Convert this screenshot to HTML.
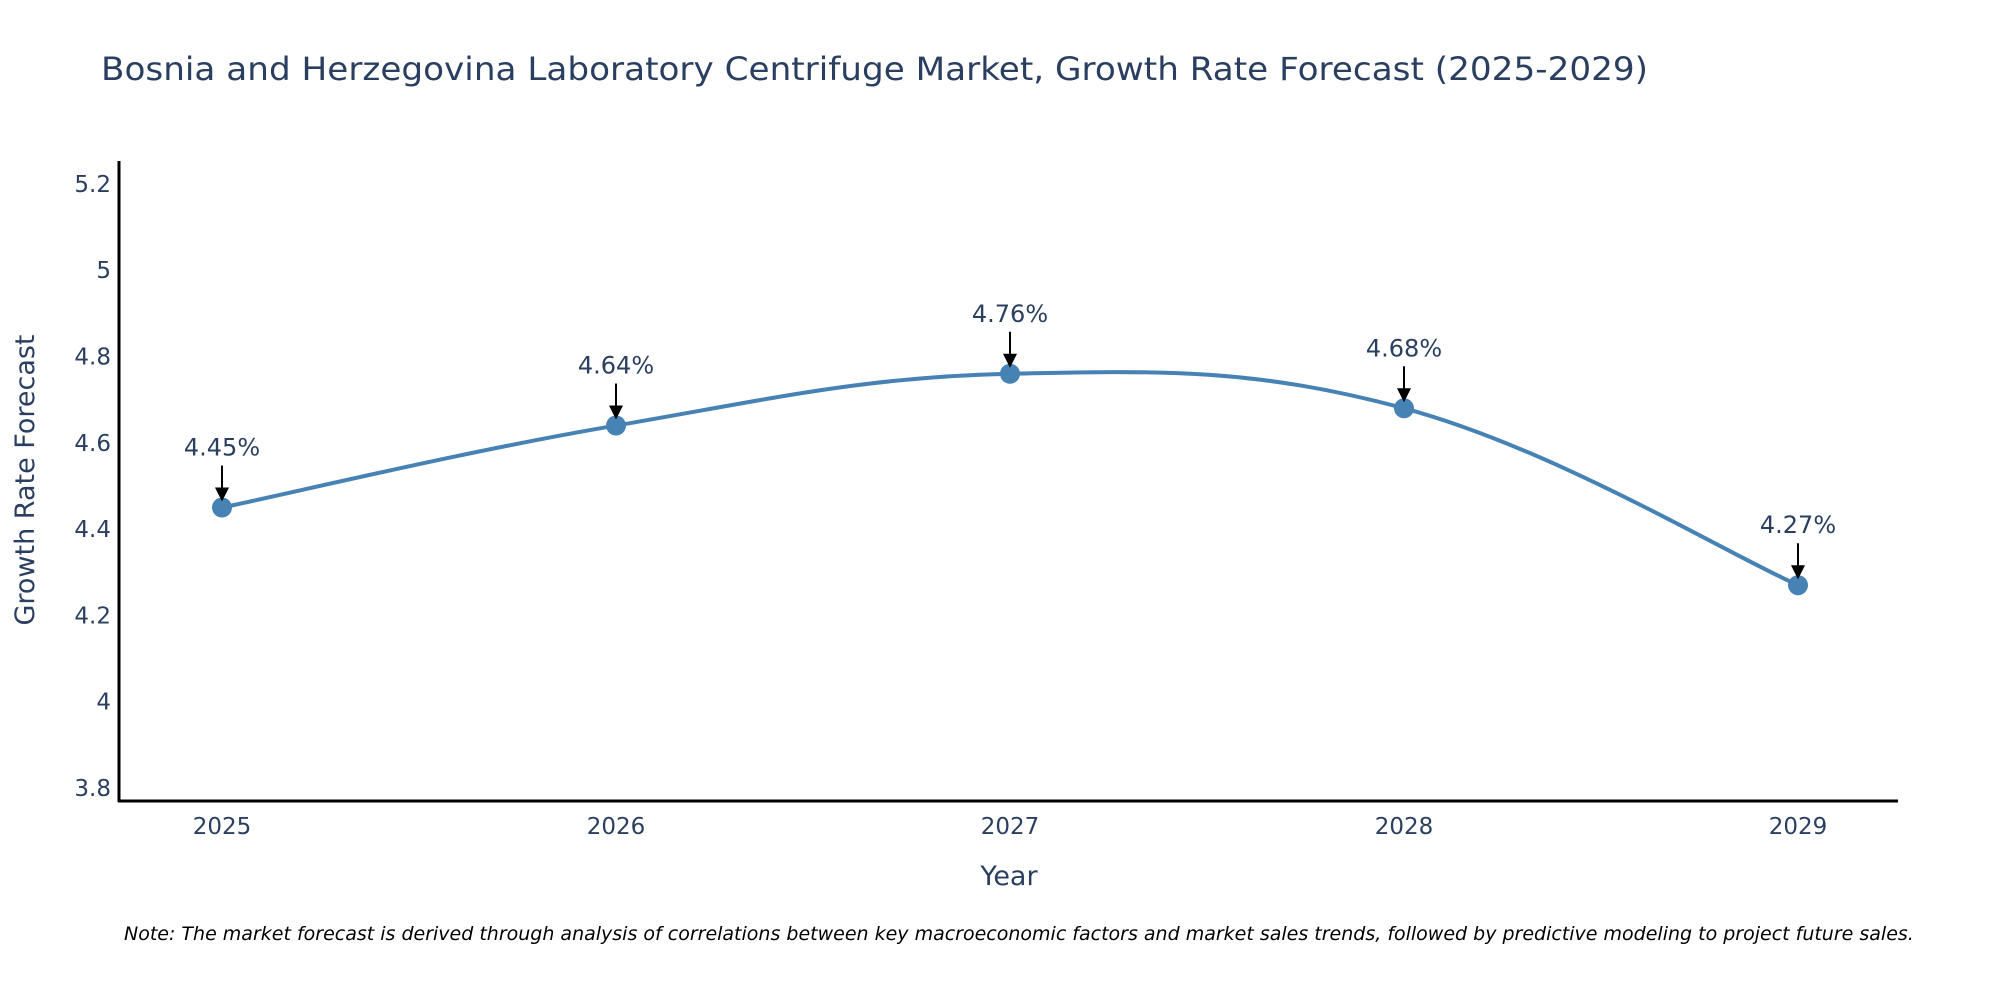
<!DOCTYPE html>
<html><head><meta charset="utf-8"><style>
body{margin:0;background:#fff;}
svg{display:block;font-family:"DejaVu Sans","Liberation Sans",sans-serif;}
</style></head><body>
<svg id="chart" width="2000" height="1000">
<text x="101" y="80" font-size="32" fill="#2a3f5f" textLength="1547" lengthAdjust="spacingAndGlyphs">Bosnia and Herzegovina Laboratory Centrifuge Market, Growth Rate Forecast (2025-2029)</text>
<g id="yticks"></g>
<g id="xticks"></g>
<line x1="119" y1="161" x2="119" y2="802" stroke="#000" stroke-width="3"/>
<line x1="118" y1="801" x2="1898" y2="801" stroke="#000" stroke-width="3"/>
<text transform="translate(34,480) rotate(-90)" text-anchor="middle" font-size="27" fill="#2a3f5f">Growth Rate Forecast</text>
<text x="1009" y="885" text-anchor="middle" font-size="27" fill="#2a3f5f">Year</text>
<path id="line" fill="none" stroke="#4682b4" stroke-width="4"/>
<g id="points"></g>
<g id="annots"></g>
<text x="124" y="940" font-size="19" font-style="italic" fill="#000">Note: The market forecast is derived through analysis of correlations between key macroeconomic factors and market sales trends, followed by predictive modeling to project future sales.</text>
</svg>
<script>
const years = ["2025","2026","2027","2028","2029"];
const values = [4.45, 4.64, 4.76, 4.68, 4.27];
const yTicks = [3.8, 4, 4.2, 4.4, 4.6, 4.8, 5, 5.2];
const NS = "http://www.w3.org/2000/svg";
const yMin = 3.77, yMax = 5.253, pTop = 161, pBot = 801;
const xL = 222, xR = 1798;
function yS(v){ return pBot - (v - yMin) / (yMax - yMin) * (pBot - pTop); }
function xS(i){ return xL + i * (xR - xL) / (years.length - 1); }
function mk(tag, attrs){ const e = document.createElementNS(NS, tag); for (const k in attrs) e.setAttribute(k, attrs[k]); return e; }
const yg = document.getElementById('yticks');
yTicks.forEach(t => {
  const e = mk('text', {x: 111, y: yS(t) + 8, 'text-anchor': 'end', 'font-size': 23, fill: '#2a3f5f'});
  
  
  e.textContent = String(t);
  yg.appendChild(e);
});
const xg = document.getElementById('xticks');
years.forEach((y, i) => {
  const e = mk('text', {x: xS(i), y: 834, 'text-anchor': 'middle', 'font-size': 23, fill: '#2a3f5f'});
  
  
  e.textContent = y;
  xg.appendChild(e);
});
const pts = values.map((v, i) => [xS(i), yS(v)]);
let d = 'M' + pts[0][0] + ',' + pts[0][1];
const tension = 0.38;
for (let i = 0; i < pts.length - 1; i++) {
  const p0 = pts[Math.max(0, i - 1)], p1 = pts[i], p2 = pts[i + 1], p3 = pts[Math.min(pts.length - 1, i + 2)];
  const c1 = [p1[0] + (p2[0] - p0[0]) * tension * 0.5, p1[1] + (p2[1] - p0[1]) * tension * 0.5];
  const c2 = [p2[0] - (p3[0] - p1[0]) * tension * 0.5, p2[1] - (p3[1] - p1[1]) * tension * 0.5];
  d += ' C' + c1[0] + ',' + c1[1] + ' ' + c2[0] + ',' + c2[1] + ' ' + p2[0] + ',' + p2[1];
}
document.getElementById('line').setAttribute('d', d);
const pg = document.getElementById('points'), ag = document.getElementById('annots');
pts.forEach((p, i) => {
  const c = mk('circle', {cx: p[0], cy: p[1], r: 10, fill: '#4682b4'});
  
  
  pg.appendChild(c);
  const ln = mk('line', {x1: p[0], y1: p[1] - 42, x2: p[0], y2: p[1] - 18, stroke: '#000', 'stroke-width': 2});
  
  
  ag.appendChild(ln);
  const hd = mk('polygon', {points: (p[0]-7)+','+(p[1]-20)+' '+(p[0]+7)+','+(p[1]-20)+' '+p[0]+','+(p[1]-6), fill: '#000'});
  
  
  ag.appendChild(hd);
  const t = mk('text', {x: p[0], y: p[1] - 52, 'text-anchor': 'middle', 'font-size': 24, fill: '#2a3f5f'});
  
  
  t.textContent = values[i].toFixed(2) + '%';
  ag.appendChild(t);
});
</script>
</body></html>
